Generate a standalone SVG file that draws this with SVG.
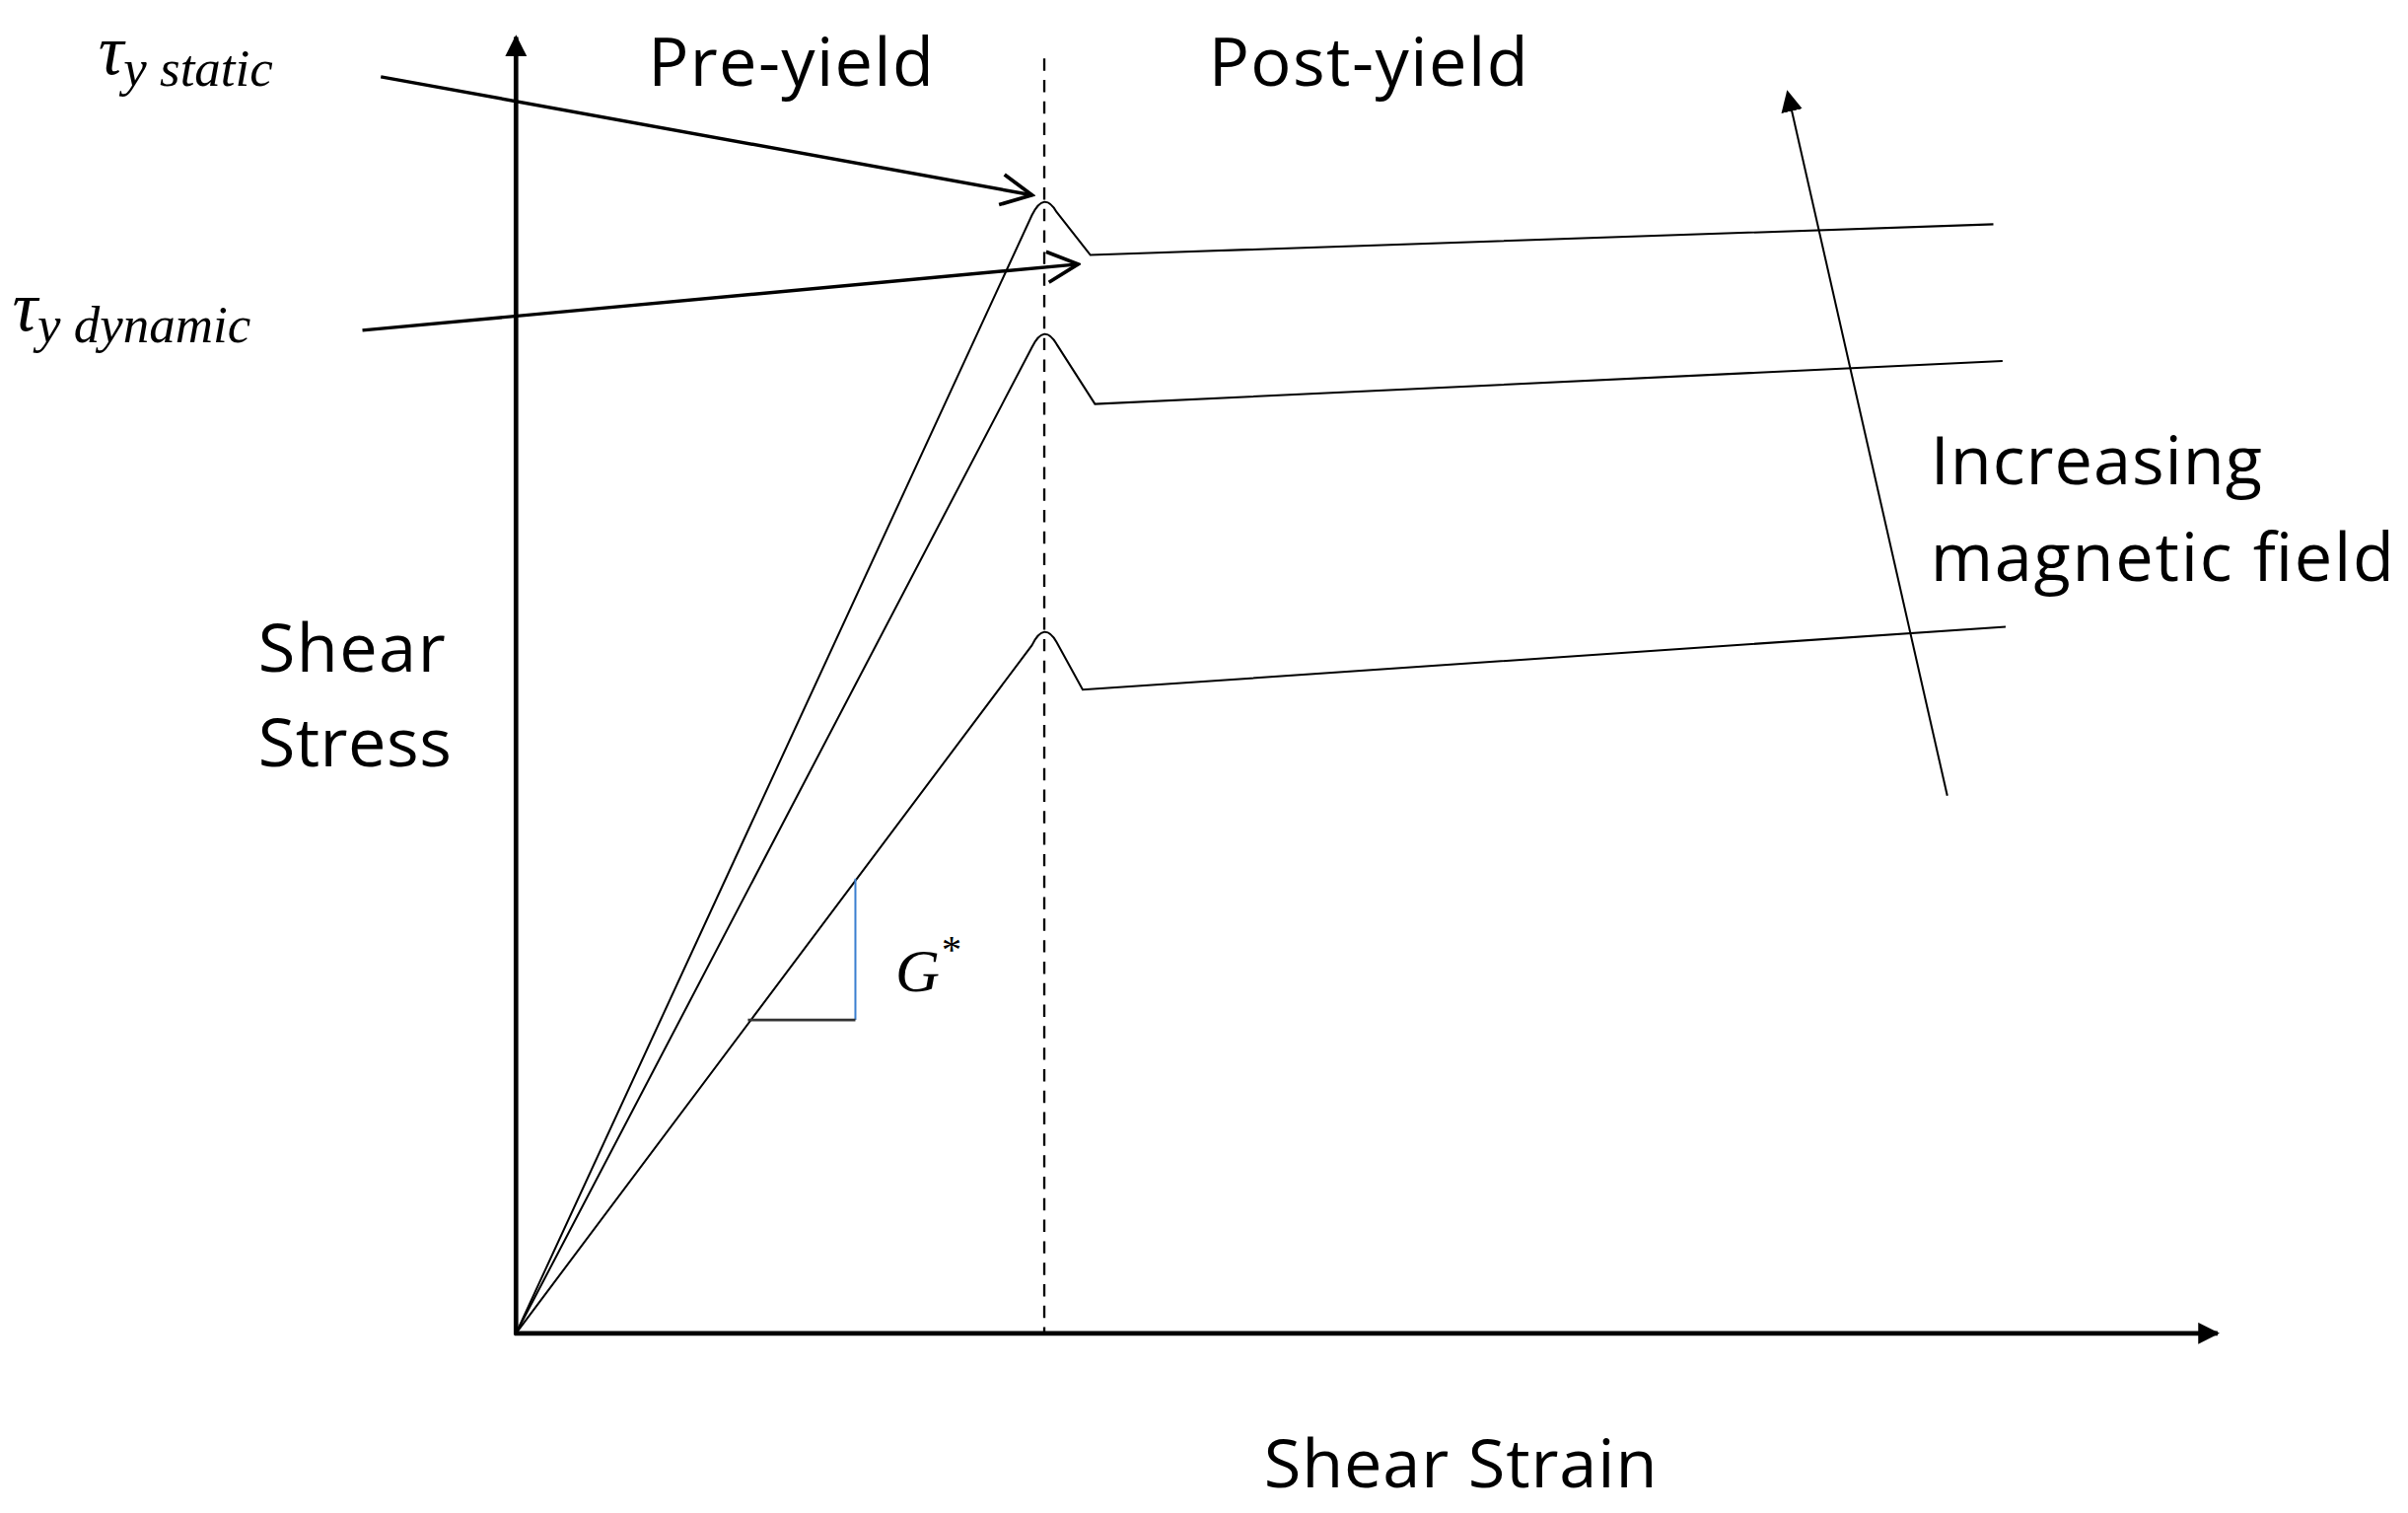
<svg xmlns="http://www.w3.org/2000/svg" width="2442" height="1534" viewBox="0 0 2442 1534">
<style>
.t{font-family:"Open Sans","Liberation Sans",sans-serif;font-size:44px;fill:#000}
.m{font-family:"Liberation Serif",serif;font-style:italic;fill:#000}
.c{fill:none;stroke:#000;stroke-width:1.3}
</style>
<defs>
<marker id="fa" viewBox="0 0 10 10" refX="9" refY="5" markerWidth="14" markerHeight="14" markerUnits="userSpaceOnUse" orient="auto"><path d="M0,0L10,5L0,10z" fill="#000"/></marker>
<marker id="oa" viewBox="0 0 12 12" refX="11" refY="6" markerWidth="24" markerHeight="24" markerUnits="userSpaceOnUse" orient="auto"><path d="M1,1L11,6L1,11" fill="none" stroke="#000" stroke-width="1.2"/></marker>
</defs>
<rect width="2442" height="1534" fill="#fff"/>
<g transform="scale(1.5574)">
<g id="axes">
<line x1="336" y1="869" x2="336" y2="24" stroke="#000" stroke-width="3" marker-end="url(#fa)"/>
<line x1="335" y1="868" x2="1444" y2="868" stroke="#000" stroke-width="3" marker-end="url(#fa)"/>
<line x1="680" y1="38" x2="680" y2="868" stroke="#000" stroke-width="1.5" stroke-dasharray="8,6"/>
</g>
<g id="curves">
<path class="c" d="M336,868L672,140Q680,124 688,138L710,166L1298,146"/>
<path class="c" d="M336,868L672,226Q680,210 688,224L713,263L1304,235"/>
<path class="c" d="M336,868L672,420Q680,404 688,418L705,449L1306,408"/>
</g>
<g id="slope">
<line x1="557" y1="572" x2="557" y2="664" stroke="#3a7fd0" stroke-width="1.3"/>
<line x1="487" y1="664" x2="557" y2="664" stroke="#333" stroke-width="1.8"/>
<text class="m" x="583" y="645" font-size="40">G<tspan font-size="26" dy="-18">*</tspan></text>
</g>
<g id="connectors">
<line x1="248" y1="50" x2="672" y2="127" stroke="#000" stroke-width="2.2" marker-end="url(#oa)"/>
<line x1="236" y1="215" x2="702" y2="172" stroke="#000" stroke-width="2.2" marker-end="url(#oa)"/>
<line x1="1268" y1="518" x2="1164" y2="60" stroke="#000" stroke-width="1.3" marker-end="url(#fa)"/>
</g>
<g id="labels">
<text class="m" x="64" y="48" font-size="46">τ<tspan font-size="34" dy="8">y static</tspan></text>
<text class="m" x="8" y="215" font-size="46">τ<tspan font-size="34" dy="8">y dynamic</tspan></text>
<text class="t" x="422" y="56" textLength="186">Pre-yield</text>
<text class="t" x="787" y="56" textLength="208">Post-yield</text>
<text class="t" x="168" y="437" textLength="122">Shear</text>
<text class="t" x="168" y="499" textLength="126">Stress</text>
<text class="t" x="1257" y="315" textLength="216">Increasing</text>
<text class="t" x="1257" y="378" textLength="302">magnetic field</text>
<text class="t" x="823" y="968" textLength="256">Shear Strain</text>
</g>
</g>
</svg>
